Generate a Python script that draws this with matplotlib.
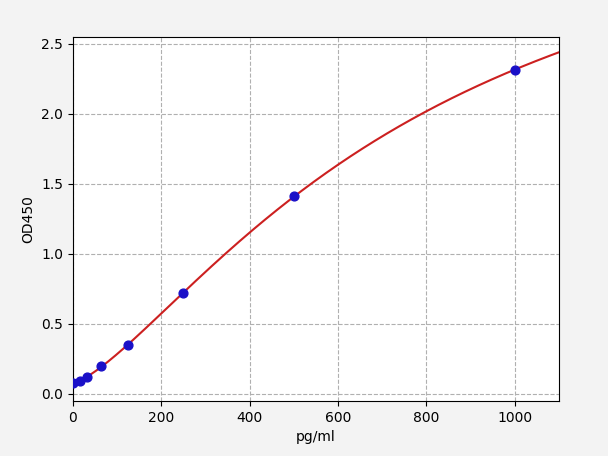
import numpy as np
import matplotlib
matplotlib.use("Agg")
import matplotlib.pyplot as plt

# standard curve data
conc = np.array([0, 15.6, 31.25, 62.5, 125, 250, 500, 1000])
od450 = np.array([0.078, 0.09, 0.12, 0.20, 0.35, 0.72, 1.41, 2.315])


def four_pl(x, a, b, c, d):
    return d + (a - d) / (1.0 + (x / c) ** b)


def fit_4pl(x, y, p0, n_iter=500):
    # small Levenberg-Marquardt fit, numpy only
    p = np.array(p0, dtype=float)
    lam = 1e-3
    def resid(q):
        return y - four_pl(x, *q)
    r = resid(p)
    cost = np.sum(r ** 2)
    for _ in range(n_iter):
        J = np.zeros((len(x), len(p)))
        for k in range(len(p)):
            dp = np.zeros_like(p)
            dp[k] = 1e-6 * max(abs(p[k]), 1.0)
            J[:, k] = (four_pl(x, *(p + dp)) - four_pl(x, *p)) / dp[k]
        A = J.T @ J
        g = J.T @ r
        step = np.linalg.solve(A + lam * np.diag(np.diag(A)), g)
        p_new = p + step
        if p_new[2] <= 0:
            lam *= 10
            continue
        r_new = resid(p_new)
        c_new = np.sum(r_new ** 2)
        if c_new < cost:
            p, r, cost = p_new, r_new, c_new
            lam *= 0.3
        else:
            lam *= 10
    return p


params = fit_4pl(conc, od450, [0.07, 1.3, 1200.0, 4.0])
xs = np.linspace(0, 1100, 400)
ys = four_pl(xs, *params)

fig = plt.figure(figsize=(6.08, 4.561), dpi=100, facecolor="#f3f3f3")
ax = fig.add_axes([0.12, 0.121, 0.799, 0.798])
ax.plot(xs, ys, color="#cc2020", linewidth=1.5, zorder=2)
ax.scatter(conc, od450, color="#1a10c8", s=40, zorder=3)
ax.set_xlim(0, 1100)
ax.set_ylim(-0.05, 2.55)
ax.set_xlabel("pg/ml")
ax.set_ylabel("OD450")
ax.grid(True, linestyle="--", color="#b0b0b0", linewidth=0.8)
ax.set_axisbelow(True)

fig.savefig("out.png", dpi=100, facecolor=fig.get_facecolor())
